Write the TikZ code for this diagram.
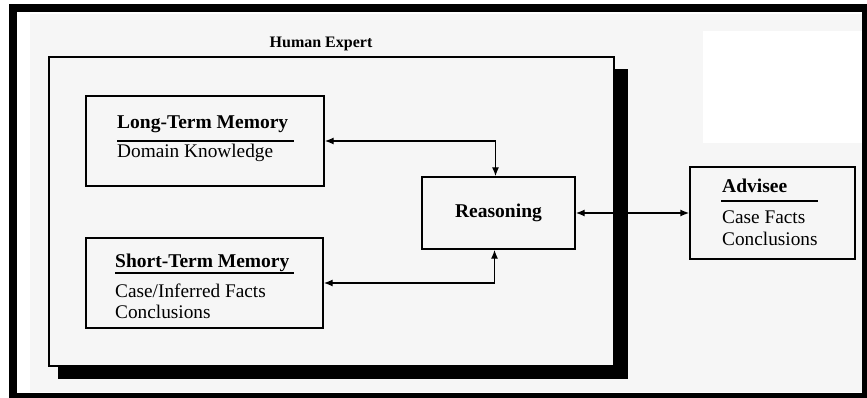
\documentclass[tikz,border=0pt]{standalone}
\usepackage{fontspec}
\setmainfont{Liberation Serif}
\usetikzlibrary{arrows.meta}
\definecolor{bggray}{HTML}{F6F6F6}
\tikzset{
  box/.style={draw=black, line width=1.4pt, fill=bggray, inner sep=0pt},
  ttl/.style={font=\fontsize{19.5}{21}\selectfont\bfseries, inner sep=0pt, anchor=base west},
  txt/.style={font=\fontsize{19.3}{21}\selectfont, inner sep=0pt, anchor=base west},
  rulel/.style={line width=1.4pt},
  arr/.style={line width=1.4pt, {Latex[length=9pt,width=7pt]}-{Latex[length=9pt,width=7pt]}}
}
\begin{document}
\begin{tikzpicture}[x=1pt,y=-1pt]
\useasboundingbox (0,0) rectangle (867,398);
% outer frame
\fill[white] (0,0) rectangle (867,398);
\fill[black] (9,4) rectangle (867,398);
\fill[white] (17,12) rectangle (862,393);
\fill[bggray] (30,14) rectangle (862,392);
\fill[white] (703,31) rectangle (862,143);
% Human Expert box with shadow
\fill[black] (58,69) rectangle (628,379);
\node[box, line width=1.2pt, minimum width=565pt, minimum height=309pt] (hx) at (331.5,211.5) {};
\node[font=\fontsize{16}{18}\selectfont\bfseries, inner sep=0pt, anchor=base] (hxl) at (321,48) {Human Expert};
% Long-Term Memory
\node[box, minimum width=238pt, minimum height=90pt] (ltm) at (205,141) {};
\node[ttl] (ltmt) at (117,129) {Long-Term Memory};
\draw[rulel] (117,141) -- (294,141);
\node[txt] (ltmb) at (117,158) {Domain Knowledge};
% Short-Term Memory
\node[box, minimum width=237pt, minimum height=90pt] (stm) at (204.5,283) {};
\node[ttl] (stmt) at (115,267) {Short-Term Memory};
\draw[rulel] (115,273) -- (294,273);
\node[txt] (stmb) at (115,297) {Case/Inferred Facts};
\node[txt] (stmc) at (115,318) {Conclusions};
% Reasoning
\node[box, minimum width=153pt, minimum height=72pt, font=\fontsize{19.5}{21}\selectfont\bfseries] (reas) at (498.5,213) {Reasoning};
% Advisee
\node[box, minimum width=165pt, minimum height=92pt] (adv) at (772.5,213) {};
\node[ttl] (advt) at (722,193) {Advisee};
\draw[rulel] (721,201) -- (818,201);
\node[txt] (advb) at (722,223) {Case Facts};
\node[txt] (advc) at (722,245) {Conclusions};
% connectors
\draw[arr] (ltm.east) -| ([xshift=-3pt]reas.north);
\draw[arr] (stm.east) -| ([xshift=-4pt]reas.south);
\draw[arr] (reas.east) -- (adv.west);
\end{tikzpicture}
\end{document}
